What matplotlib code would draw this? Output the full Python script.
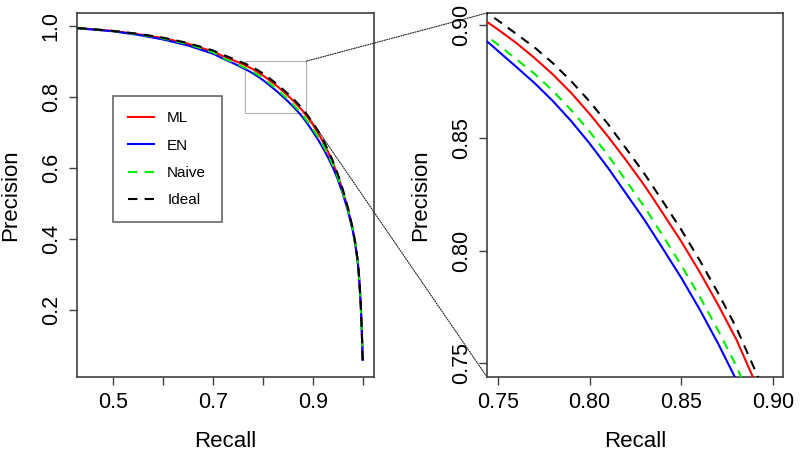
import numpy as np
import matplotlib
matplotlib.use("Agg")
import matplotlib.pyplot as plt
from matplotlib.patches import Rectangle, ConnectionPatch

plt.rcParams['font.family'] = ['Liberation Sans', 'DejaVu Sans']

# recall grid shared by all curves
recall = [0.428, 0.45, 0.5, 0.55, 0.6, 0.65, 0.7, 0.72, 0.745, 0.75,
          0.76, 0.77, 0.78, 0.79, 0.80, 0.81, 0.82, 0.83, 0.84, 0.85,
          0.86, 0.87, 0.88, 0.89, 0.90, 0.91, 0.92, 0.93, 0.94, 0.95,
          0.96, 0.97, 0.98, 0.985, 0.99, 0.993, 0.996, 0.998, 1.0]

prec_ml = [0.994, 0.992, 0.986, 0.977, 0.966, 0.950, 0.928, 0.915, 0.901, 0.8982,
           0.8922, 0.8855, 0.8782, 0.8700, 0.8607, 0.8507, 0.8400, 0.8288, 0.8165, 0.8040,
           0.7905, 0.7760, 0.7605, 0.7420, 0.7225, 0.700, 0.675, 0.647, 0.615, 0.579,
           0.537, 0.487, 0.428, 0.388, 0.338, 0.288, 0.218, 0.148, 0.06]
prec_en = [0.994, 0.991, 0.985, 0.975, 0.962, 0.945, 0.922, 0.908, 0.8923, 0.8887,
           0.8816, 0.8744, 0.8664, 0.8575, 0.8476, 0.8368, 0.8252, 0.8135, 0.8008, 0.7879,
           0.7739, 0.7588, 0.7425, 0.7232, 0.7027, 0.681, 0.657, 0.631, 0.602, 0.568,
           0.528, 0.481, 0.424, 0.385, 0.335, 0.285, 0.215, 0.145, 0.06]
prec_naive = [0.994, 0.992, 0.986, 0.977, 0.965, 0.949, 0.926, 0.910, 0.8946, 0.8915,
              0.8850, 0.8785, 0.8709, 0.8624, 0.8529, 0.8424, 0.8309, 0.8193, 0.8065, 0.7935,
              0.7796, 0.7647, 0.7487, 0.7297, 0.7097, 0.689, 0.666, 0.639, 0.609, 0.574,
              0.533, 0.485, 0.427, 0.387, 0.337, 0.287, 0.217, 0.147, 0.07]
prec_ideal = [0.994, 0.992, 0.986, 0.978, 0.967, 0.952, 0.931, 0.919, 0.905, 0.9022,
              0.8962, 0.8902, 0.8832, 0.8752, 0.8662, 0.8562, 0.8452, 0.8340, 0.8217, 0.8092,
              0.7957, 0.7812, 0.7657, 0.7472, 0.7277, 0.706, 0.681, 0.652, 0.620, 0.583,
              0.540, 0.490, 0.430, 0.39, 0.34, 0.29, 0.22, 0.15, 0.052]

series = [
    ("ML", prec_ml, "#ff0000", "-"),
    ("EN", prec_en, "#0000ff", "-"),
    ("Naive", prec_naive, "#00ee00", "--"),
    ("Ideal", prec_ideal, "black", "--"),
]

# zoom window drawn on the left panel
zoom_x = (0.764, 0.887)
zoom_y = (0.754, 0.901)

fig = plt.figure(figsize=(8, 4.53), dpi=100)
ax1 = fig.add_axes([77/800, 76/453, 297/800, 364/453])
ax2 = fig.add_axes([487/800, 76/453, 296/800, 364/453])

for ax in (ax1, ax2):
    for name, p, col, ls in series:
        l, = ax.plot(recall, p, color=col, lw=1.5, ls=ls, label=name, zorder=3)
        if ls == "--":
            l.set_dashes((4.5, 3.5))
    for s in ax.spines.values():
        s.set_color("#404040")
        s.set_linewidth(1.2)
    ax.tick_params(direction="out", length=6, width=1, color="#404040",
                   labelsize=15.5, pad=5)
    ax.set_xlabel("Recall", fontsize=16, labelpad=13)
    ax.set_ylabel("Precision", fontsize=16, labelpad=14)

ax1.set_xlim(0.4274, 1.0226)
ax1.set_ylim(0.0113, 1.0366)
ax1.set_xticks([0.5, 0.6, 0.7, 0.8, 0.9, 1.0])
ax1.set_xticklabels(["0.5", "", "0.7", "", "0.9", ""])
ax1.set_yticks([0.2, 0.4, 0.6, 0.8, 1.0])
ax1.set_yticklabels(["0.2", "0.4", "0.6", "0.8", "1.0"], rotation=90, va="center")

ax2.set_xlim(0.7442, 0.9053)
ax2.set_ylim(0.744, 0.9054)
ax2.set_xticks([0.75, 0.80, 0.85, 0.90])
ax2.set_xticklabels(["0.75", "0.80", "0.85", "0.90"])
ax2.set_yticks([0.75, 0.80, 0.85, 0.90])
ax2.set_yticklabels(["0.75", "0.80", "0.85", "0.90"], rotation=90, va="center")

ax1.add_patch(Rectangle((zoom_x[0], zoom_y[0]), zoom_x[1] - zoom_x[0],
                        zoom_y[1] - zoom_y[0], fill=False, ec="#b0b0b0",
                        lw=0.8, zorder=1))

for yy, corner in ((zoom_y[1], (0, 1)), (zoom_y[0], (0, 0))):
    con = ConnectionPatch(xyA=(zoom_x[1], yy), coordsA=ax1.transData,
                          xyB=corner, coordsB=ax2.transAxes,
                          color="#222222", lw=0.8, ls=(0, (1, 1.2)), zorder=1)
    con.set_clip_on(False)
    ax1.add_artist(con)

leg = ax1.legend(loc="upper left", bbox_to_anchor=(36/297, 1 - 83/364),
                 fontsize=11, frameon=True, fancybox=False, handlelength=1.7,
                 labelspacing=0.87, borderpad=1.0, handletextpad=0.85,
                 borderaxespad=0)
leg.get_frame().set_edgecolor("#404040")
leg.get_frame().set_linewidth(1.2)

fig.savefig("out.png", dpi=100)
